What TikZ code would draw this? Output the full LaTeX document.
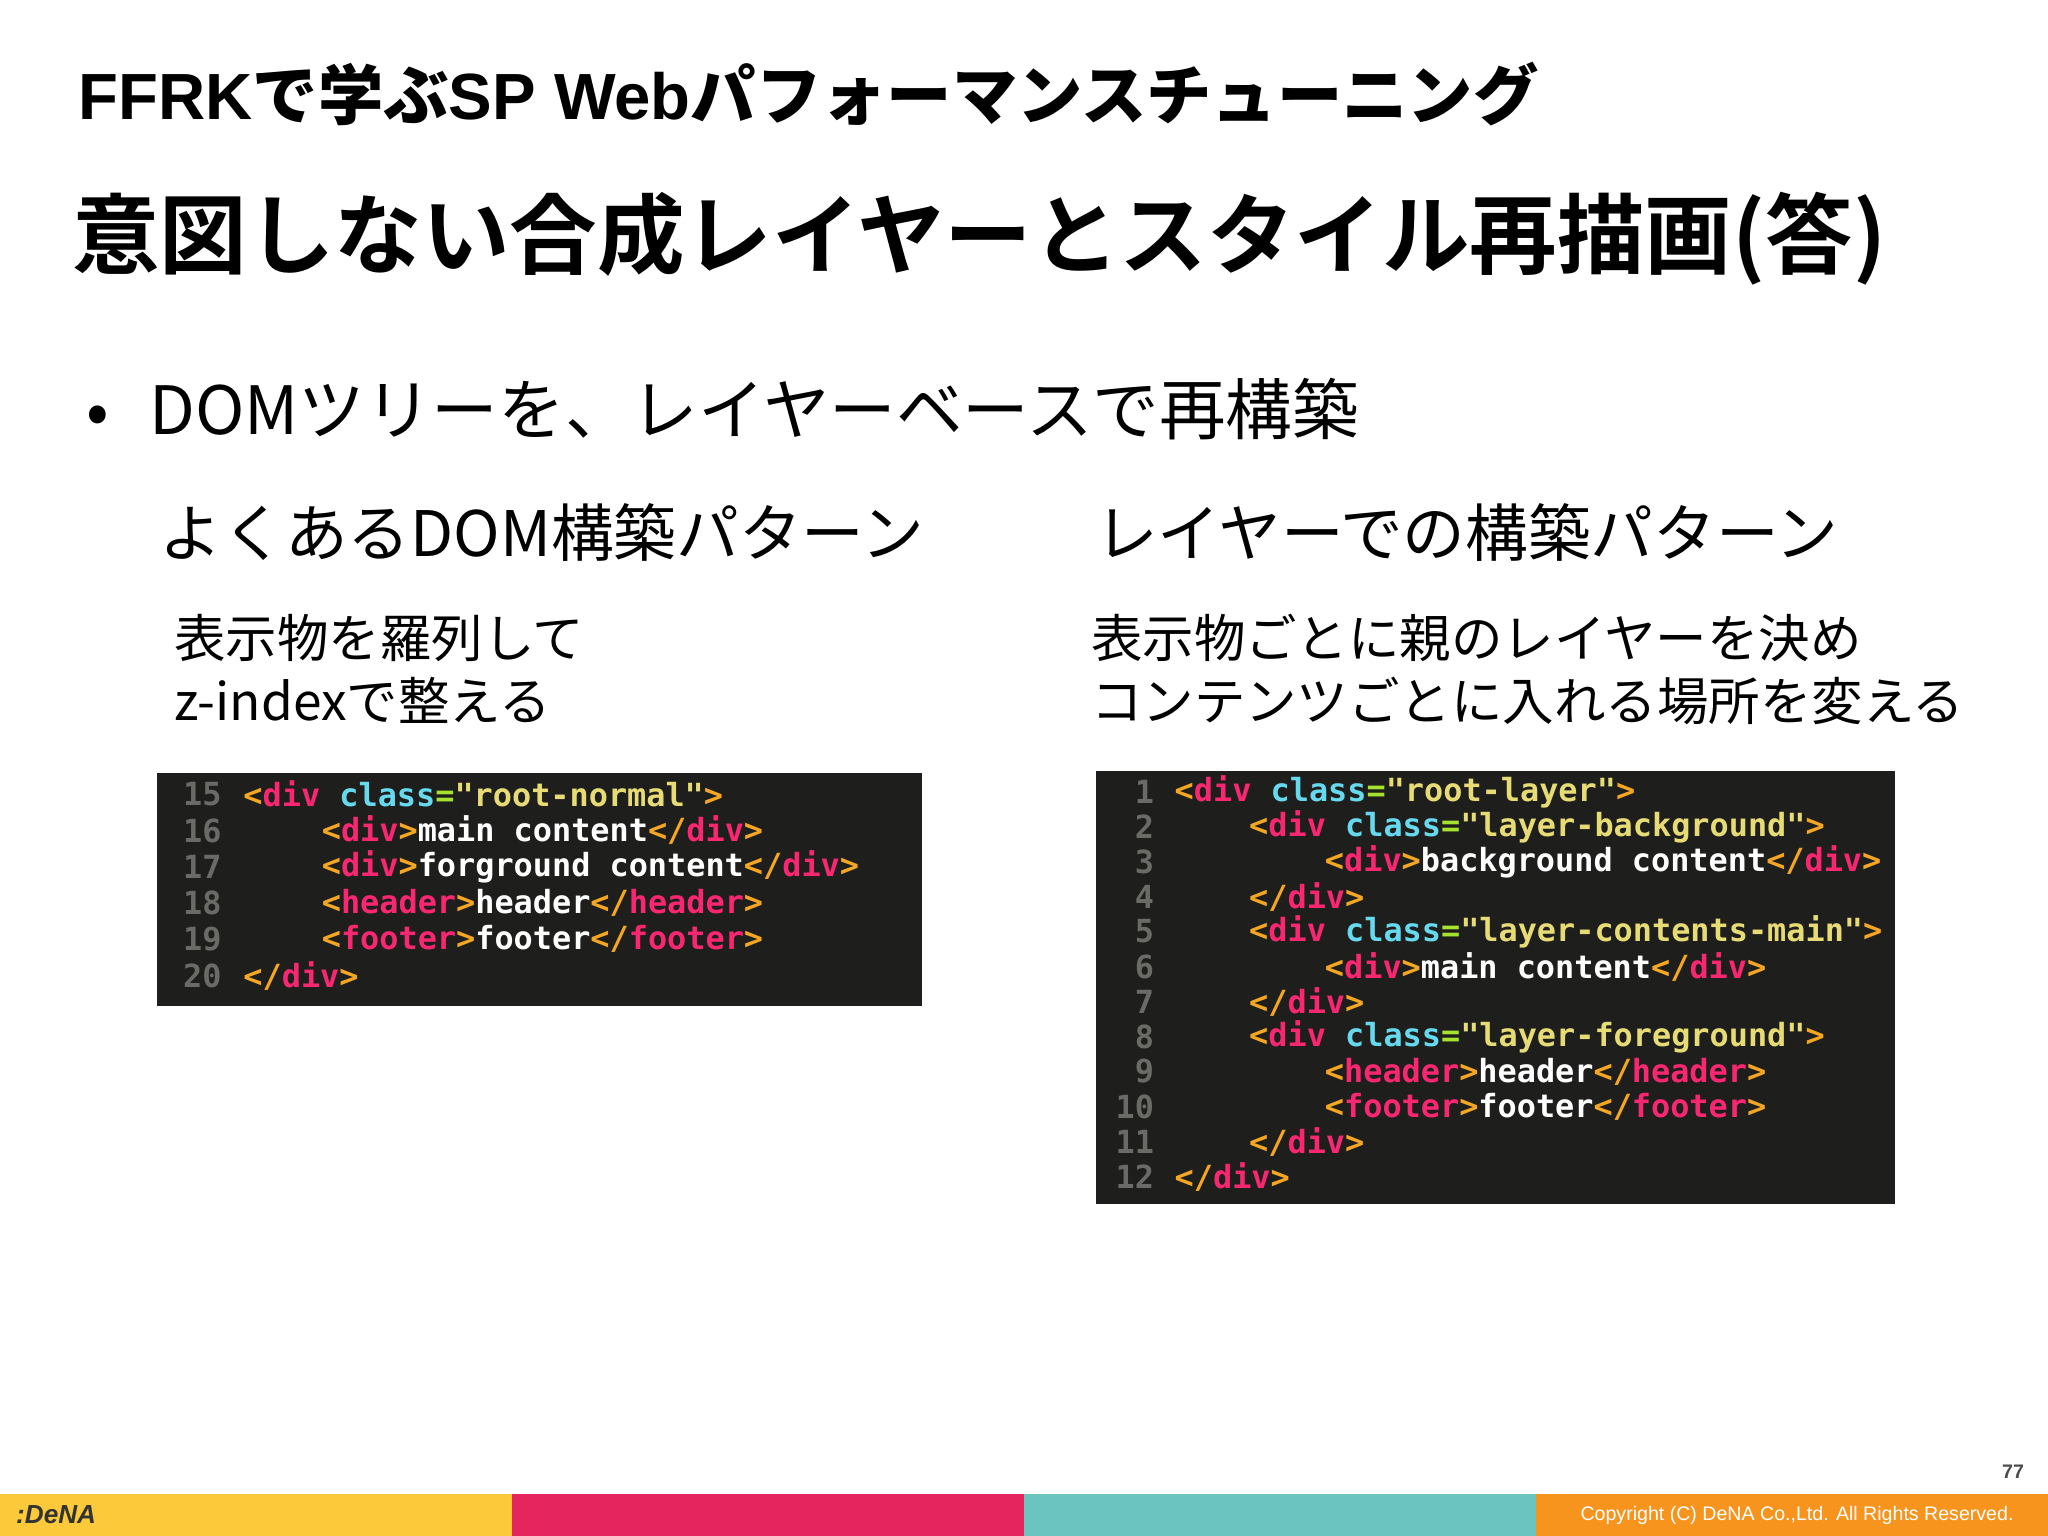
\documentclass[tikz,border=0pt]{standalone}
\usepackage{fontspec}
\setmainfont{Noto Sans CJK JP}
\newfontfamily\jpb{Noto Sans CJK JP Bold}
\newfontfamily\hv{Liberation Sans}
\newfontfamily\cmono{DejaVu Sans Mono Bold}
\definecolor{bgc}{HTML}{1E1F1C}
\definecolor{tagc}{HTML}{F92672}
\definecolor{brc}{HTML}{F5A623}
\definecolor{atc}{HTML}{66D9EF}
\definecolor{eqc}{HTML}{A6E22E}
\definecolor{stc}{HTML}{E6DB74}
\definecolor{lnc}{HTML}{6A6A66}
\definecolor{fy}{HTML}{FCC93A}
\definecolor{fp}{HTML}{E5265E}
\definecolor{ft}{HTML}{6CC4C0}
\definecolor{fo}{HTML}{F7941D}
\newcommand\Bo[1]{\textcolor{brc}{#1}}
\newcommand\Tg[1]{\textcolor{tagc}{#1}}
\newcommand\Op[1]{\Bo{<}\Tg{#1}\Bo{>}}
\newcommand\Cl[1]{\Bo{</}\Tg{#1}\Bo{>}}
\newcommand\Dc[1]{\Bo{<}\Tg{div} \textcolor{atc}{class}\textcolor{eqc}{=}\textcolor{stc}{"#1"}\Bo{>}}
\begin{document}
\begin{tikzpicture}[x=0.5pt,y=-0.5pt,
  code/.style={anchor=west,inner sep=0,text=white,font=\cmono\fontsize{12.2}{12.2}\selectfont},
  lno/.style={anchor=east,inner sep=0,text=lnc,font=\cmono\fontsize{12.2}{12.2}\selectfont},
  txt/.style={anchor=west,inner sep=0}]
\useasboundingbox (0,0) rectangle (1568,1176);
\fill[white] (0,0) rectangle (1568,1176);
\node[txt,font=\hv\bfseries\fontsize{25}{25}\selectfont] (t1) at (60,72) {FFRK{\jpb で学ぶ}SP Web{\jpb パフォーマンスチューニング}};
\node[txt,font=\jpb\fontsize{33.5}{33.5}\selectfont] (t2) at (55,183) {意図しない合成レイヤーとスタイル再描画(答)};
\node[txt,font=\fontsize{25.5}{25.5}\selectfont] (b1) at (66,313) {•\hspace{0.6em}DOMツリーを、レイヤーベースで再構築};
\node[txt,font=\fontsize{24}{24}\selectfont] (s1) at (122,408) {よくあるDOM構築パターン};
\node[txt,font=\fontsize{24}{24}\selectfont] (s2) at (838,408) {レイヤーでの構築パターン};
\node[txt,font=\fontsize{19.7}{24}\selectfont,align=left,anchor=north west] (p1) at (133,470) {表示物を羅列して\\z-indexで整える};
\node[txt,font=\fontsize{19.7}{24}\selectfont,align=left,anchor=north west] (p2) at (835,470) {表示物ごとに親のレイヤーを決め\\コンテンツごとに入れる場所を変える};
% left code
\fill[bgc] (120,592) rectangle (706,770);
\foreach \n [count=\i from 0] in {15,...,20} \node[lno] (ln\n) at (170,608+27.8*\i) {\n};
\node[code] (a1) at (186,608) {\Dc{root-normal}};
\node[code] (a2) at (246,635.8) {\Op{div}main content\Cl{div}};
\node[code] (a3) at (246,663.6) {\Op{div}forground content\Cl{div}};
\node[code] (a4) at (246,691.4) {\Op{header}header\Cl{header}};
\node[code] (a5) at (246,719.2) {\Op{footer}footer\Cl{footer}};
\node[code] (a6) at (186,747) {\Cl{div}};
% right code
\fill[bgc] (839,590) rectangle (1451,922);
\foreach \n [count=\i from 0] in {1,...,12} \node[lno] (rn\n) at (884,606+26.8*\i) {\n};
\node[code] (r1) at (899,606) {\Dc{root-layer}};
\node[code] (r2) at (956,632.8) {\Dc{layer-background}};
\node[code] (r3) at (1014,659.6) {\Op{div}background content\Cl{div}};
\node[code] (r4) at (956,686.4) {\Cl{div}};
\node[code] (r5) at (956,713.2) {\Dc{layer-contents-main}};
\node[code] (r6) at (1014,740) {\Op{div}main content\Cl{div}};
\node[code] (r7) at (956,766.8) {\Cl{div}};
\node[code] (r8) at (956,793.6) {\Dc{layer-foreground}};
\node[code] (r9) at (1014,820.4) {\Op{header}header\Cl{header}};
\node[code] (r10) at (1014,847.2) {\Op{footer}footer\Cl{footer}};
\node[code] (r11) at (956,874) {\Cl{div}};
\node[code] (r12) at (899,900.8) {\Cl{div}};
% footer
\fill[fy] (0,1144) rectangle (392,1176);
\fill[fp] (392,1144) rectangle (784,1176);
\fill[ft] (784,1144) rectangle (1176,1176);
\fill[fo] (1176,1144) rectangle (1568,1176);
\node[txt,font=\hv\bfseries\itshape\fontsize{10}{10}\selectfont,text=black!80] (logo) at (12,1160) {:DeNA};
\node[anchor=east,inner sep=0,font=\hv\fontsize{7.5}{7.5}\selectfont,text=white] (cp) at (1542,1160) {Copyright (C) DeNA Co.,Ltd. All Rights Reserved.};
\node[anchor=east,inner sep=0,font=\hv\bfseries\fontsize{7.5}{7.5}\selectfont,text=black!70] (pg) at (1550,1127) {77};
\end{tikzpicture}
\end{document}
